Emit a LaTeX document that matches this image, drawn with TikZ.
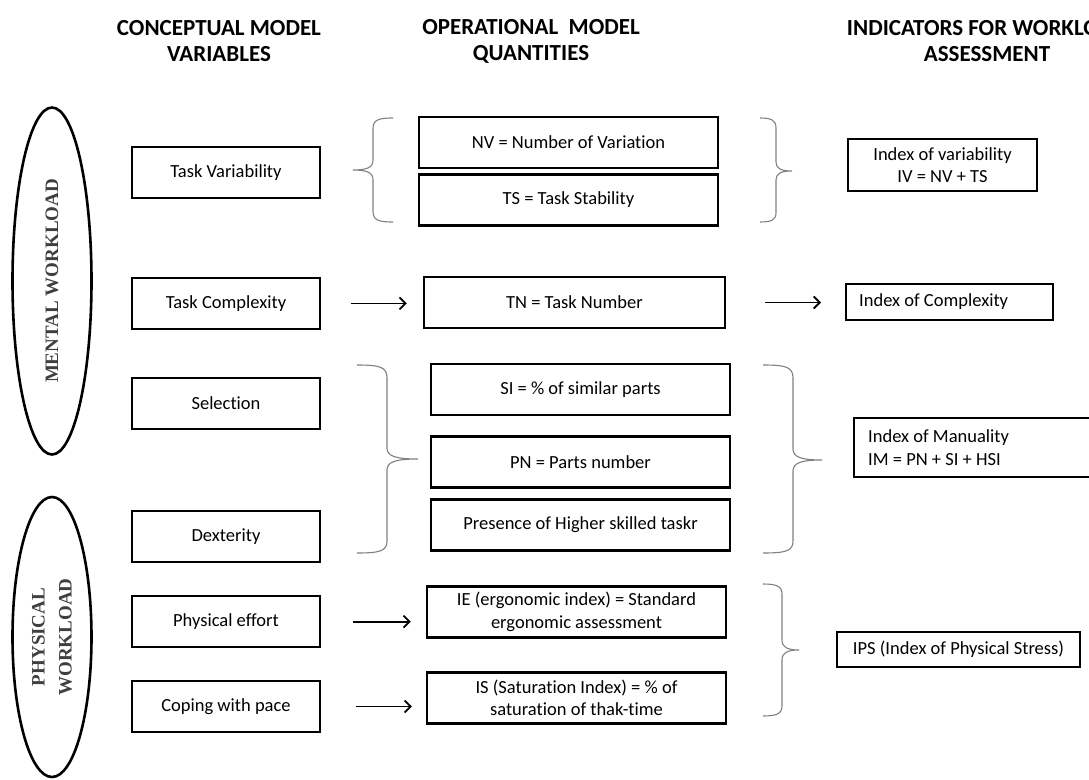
\documentclass[tikz,border=0pt]{standalone}
\usepackage{fontspec}
\setmainfont[Ligatures=NoCommon]{Carlito}
\newfontfamily\loadfont{Liberation Serif}
\usepackage{xcolor}
\usetikzlibrary{shapes.geometric,arrows.meta,positioning}
\definecolor{bracegray}{HTML}{808080}
\definecolor{loadgray}{HTML}{3F3F3F}

\begin{document}
\begin{tikzpicture}[x=1pt,y=-1pt,>={Straight Barb[length=6pt,width=12pt]},
	head/.style={font=\fontsize{23}{26}\selectfont\bfseries,align=center},
	box/.style={draw,line width=2.4pt,minimum width=188pt,minimum height=51pt,inner sep=0pt,font=\fontsize{18.5}{22.5}\selectfont,align=center},
	opbox/.style={box,minimum width=299pt},
	load/.style={draw,ellipse,rotate=90,inner sep=0pt,line width=2.6pt,text=loadgray,font=\loadfont\fontsize{19}{27}\selectfont\bfseries,align=center},
	brc/.style={draw=bracegray,line width=1.1pt},
	arr/.style={->,line width=1.8pt}]
	\useasboundingbox (0,0) rectangle (1089,779);

	\node[head]						(hcon)	at (219,41)		{CONCEPTUAL MODEL\\VARIABLES};
	\node[head]						(hop)	at (531,41)		{OPERATIONAL~ MODEL\\QUANTITIES};
	\node[head]						(hind)	at (987,41)		{INDICATORS FOR WORKLOAD\\ASSESSMENT};

	\node[load,minimum width=347pt,minimum height=79pt]	(mental)	at (52,281)	{MENTAL WORKLOAD};
	\node[load,minimum width=280pt,minimum height=79pt]	(physical)	at (52,637)	{PHYSICAL\\WORKLOAD};

	\node[box]						(tv)	at (226,172.5)		{Task Variability};
	\node[box]						(tc)	[below=77.5pt of tv]	{Task Complexity};
	\node[box]						(sel)	[below=46.5pt of tc]	{Selection};
	\node[box]						(dex)	[below=79.5pt of sel]	{Dexterity};
	\node[box]						(pe)	[below=32pt of dex]	{Physical effort};
	\node[box]						(cp)	[below=31.5pt of pe]	{Coping with pace};

	\node[opbox]					(nv)	at (568.5,142.5)	{NV = Number of Variation};
	\node[opbox]					(ts)	[below=4pt of nv]	{TS = Task Stability};
	\node[opbox,minimum width=301pt]	(tn)	at (574.5,302.5)	{TN = Task Number};
	\node[opbox]					(si)	at (580.5,389.5)	{SI = \% of similar parts};
	\node[opbox]					(pn)	[below=19pt of si]	{PN = Parts number};
	\node[opbox]					(hs)	[below=9.5pt of pn]	{Presence of Higher skilled taskr};
	\node[opbox]					(ie)	at (576.5,612)		{IE (ergonomic index) = Standard\\ergonomic assessment};
	\node[opbox]					(is)	[below=32.5pt of ie]	{IS (Saturation Index) = \% of\\saturation of thak-time};

	\node[box,minimum width=189pt,minimum height=52pt]	(iv)	at (942.5,165)	{Index of variability\\IV = NV + TS};
	\node[box,anchor=west,minimum height=36pt,text width=181pt,inner xsep=13pt,align=flush left]	(ic)	at (845,302)	{Index of Complexity};
	\node[box,anchor=west,minimum height=59pt,text width=230pt,inner xsep=14pt,align=flush left]	(im)	at (853,447.5)	{Index of Manuality\\IM = PN + SI + HSI};
	\node[box,minimum width=243pt,minimum height=35pt]	(ips)	at (958.5,649.5)	{IPS (Index of Physical Stress)};

	\path[arr]	(tc.east)	edge [shorten <=30pt,shorten >=16pt]	(tc.east -| tn.west)
				(tn.east)	edge [shorten <=39pt,shorten >=24pt]	(tn.east -| ic.west)
				(pe.east)	edge [shorten <=32pt,shorten >=15pt]	(pe.east -| ie.west)
				(cp.east)	edge [shorten <=35pt,shorten >=14pt]	(cp.east -| is.west);

	% braces
	\draw[brc] (393,118) .. controls (378,118) and (373,120) .. (373,129) -- (373,160) .. controls (373,167) and (368,170) .. (353,170) .. controls (368,170) and (373,173) .. (373,180) -- (373,211) .. controls (373,220) and (378,222) .. (393,222);
	\draw[brc] (760,118) .. controls (771,118) and (776,120) .. (776,128) -- (776,162) .. controls (776,168) and (780,171) .. (792,171) .. controls (780,171) and (776,174) .. (776,180) -- (776,213) .. controls (776,220) and (771,222) .. (760,222);
	\draw[brc] (357,365) .. controls (380,365) and (387,367) .. (387,378) -- (387,448) .. controls (387,456) and (395,459) .. (418,459) .. controls (395,459) and (387,462) .. (387,470) -- (387,541) .. controls (387,551) and (380,553) .. (357,553);
	\draw[brc] (763,365) .. controls (786,365) and (793,367) .. (793,378) -- (793,449) .. controls (793,457) and (801,460) .. (822,460) .. controls (801,460) and (793,463) .. (793,471) -- (793,541) .. controls (793,551) and (786,553) .. (763,553);
	\draw[brc] (763,584) .. controls (776,584) and (782,586) .. (782,594) -- (782,640) .. controls (782,647) and (787,650) .. (799,650) .. controls (787,650) and (782,653) .. (782,660) -- (782,706) .. controls (782,714) and (776,716) .. (763,716);
\end{tikzpicture}
\end{document}
